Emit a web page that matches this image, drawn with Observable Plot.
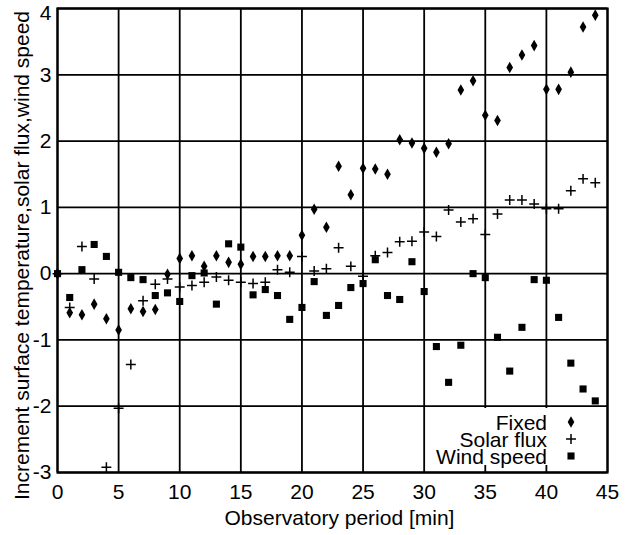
<!DOCTYPE html>
<html><head><meta charset="utf-8">
<script src="https://cdn.jsdelivr.net/npm/d3@7"></script>
<script src="https://cdn.jsdelivr.net/npm/@observablehq/plot@0.6"></script>
<style>
html,body{margin:0;padding:0;background:#fff;}
#wrap{position:relative;width:632px;height:535px;font-family:"Liberation Sans",Arial,Helvetica,sans-serif;}
#legend{position:absolute;left:430px;top:408px;width:172px;height:57px;background:#fff;font-size:21px;line-height:17px;color:#000;}
.row{position:absolute;left:0;height:17px;width:172px;}
.row span{position:absolute;right:55px;top:0;white-space:nowrap;}
.row svg{position:absolute;left:134px;top:1px;overflow:visible;}
</style></head><body><div id="wrap"></div>
<script>
const minutes = [0,1,2,3,4,5,6,7,8,9,10,11,12,13,14,15,16,17,18,19,20,21,22,23,24,25,26,27,28,29,30,31,32,33,34,35,36,37,38,39,40,41,42,43,44];
const fixed = [0,-0.59,-0.62,-0.46,-0.68,-0.85,-0.53,-0.57,-0.54,-0.01,0.23,0.27,0.11,0.27,0.17,0.14,0.26,0.26,0.27,0.27,0.58,0.97,0.70,1.62,1.19,1.59,1.58,1.50,2.02,1.97,1.89,1.83,1.96,2.77,2.91,2.39,2.31,3.11,3.30,3.44,2.78,2.78,3.04,3.72,3.90];
const solarFlux = [0,-0.51,0.41,-0.08,-2.92,-2.03,-1.37,-0.41,-0.16,-0.08,-0.20,-0.18,-0.13,-0.05,-0.10,-0.13,-0.15,-0.13,0.06,0.02,0.26,0.04,0.075,0.39,0.11,-0.04,0.27,0.32,0.48,0.49,0.63,0.56,0.96,0.78,0.83,0.59,0.90,1.11,1.11,1.05,0.98,0.98,1.25,1.43,1.37];
const windSpeed = [0,-0.36,0.06,0.44,0.26,0.02,-0.06,-0.09,-0.33,-0.29,-0.42,-0.03,0.01,-0.46,0.45,0.40,-0.32,-0.24,-0.33,-0.69,-0.51,-0.12,-0.63,-0.48,-0.21,-0.15,0.21,-0.33,-0.39,0.18,-0.27,-1.10,-1.64,-1.08,0.0,-0.06,-0.96,-1.47,-0.81,-0.09,-0.10,-0.66,-1.35,-1.74,-1.92];
const xTicks = [0,5,10,15,20,25,30,35,40,45];
const yTicks = [-3,-2,-1,0,1,2,3,4];
const seriesNames = ["Fixed","Solar flux","Wind speed"];
const xLabel = "Observatory period [min]";
const yLabel = "Increment surface temperature,solar flux,wind speed";

const rows = (vals) => minutes.map((m,i) => ({m, v: vals[i]}));
const FONT = "Liberation Sans, Arial, Helvetica, sans-serif";
const yMax = d3.max(yTicks);

const chart = Plot.plot({
  width: 632, height: 535,
  marginLeft: 57, marginRight: 25, marginTop: 8, marginBottom: 63,
  style: {fontFamily: FONT, fontSize: "21px", color: "black", background: "white", overflow: "visible"},
  x: {domain: [0,45]},
  y: {domain: [-3,4]},
  marks: [
    Plot.gridX(xTicks, {stroke: "black", strokeOpacity: 1, strokeWidth: 1.8}),
    Plot.gridY(yTicks, {stroke: "black", strokeOpacity: 1, strokeWidth: 1.8}),
    Plot.frame({stroke: "black", strokeWidth: 2.2}),
    Plot.axisX(xTicks, {tickSize: 0, tickPadding: 12, label: null, fontSize: 21, tickFormat: d => String(d)}),
    Plot.axisY(yTicks.filter(t => t < yMax), {tickSize: 0, tickPadding: 6, label: null, fontSize: 21, tickFormat: d => String(d)}),
    Plot.axisY([yMax], {tickSize: 0, tickPadding: 6, label: null, fontSize: 21, dy: 5, tickFormat: d => String(d)}),
    Plot.text([xLabel], {frameAnchor: "bottom", dy: 46, dx: 7, lineAnchor: "middle", text: d => d, fontSize: 21, fill: "black"}),
    Plot.text([yLabel], {frameAnchor: "left", rotate: -90, dx: -35, dy: 15, textAnchor: "middle", lineAnchor: "middle", text: d => d, fontSize: 21, fill: "black"}),
    Plot.dot(rows(fixed), {x: "m", y: "v", symbol: "diamond", fill: "black", r: 3.5}),
    Plot.dot(rows(solarFlux), {x: "m", y: "v", symbol: "plus", stroke: "black", fill: "none", strokeWidth: 1.5, r: 3.3}),
    Plot.dot(rows(windSpeed), {x: "m", y: "v", symbol: "square", fill: "black", r: 4})
  ]
});
const wrap = document.getElementById("wrap");
wrap.appendChild(chart);

// legend
const legend = document.createElement("div");
legend.id = "legend";
const symbols = [
  {s: d3.symbolDiamond, size: 3.5*3.5*Math.PI, fill: "black", stroke: "none", sw: 0},
  {s: d3.symbolPlus, size: 3.3*3.3*Math.PI, fill: "none", stroke: "black", sw: 1.5},
  {s: d3.symbolSquare, size: 4*4*Math.PI, fill: "black", stroke: "none", sw: 0}
];
seriesNames.forEach((name, i) => {
  const row = document.createElement("div");
  row.className = "row";
  row.style.top = (6 + i*17.2) + "px";
  const sp = document.createElement("span");
  sp.textContent = name;
  row.appendChild(sp);
  const svg = d3.create("svg").attr("width", 14).attr("height", 14).attr("viewBox", "-7 -7 14 14");
  svg.append("path").attr("d", d3.symbol(symbols[i].s, symbols[i].size)()).attr("fill", symbols[i].fill).attr("stroke", symbols[i].stroke).attr("stroke-width", symbols[i].sw);
  row.appendChild(svg.node());
  legend.appendChild(row);
});
wrap.appendChild(legend);
</script>
</body></html>
